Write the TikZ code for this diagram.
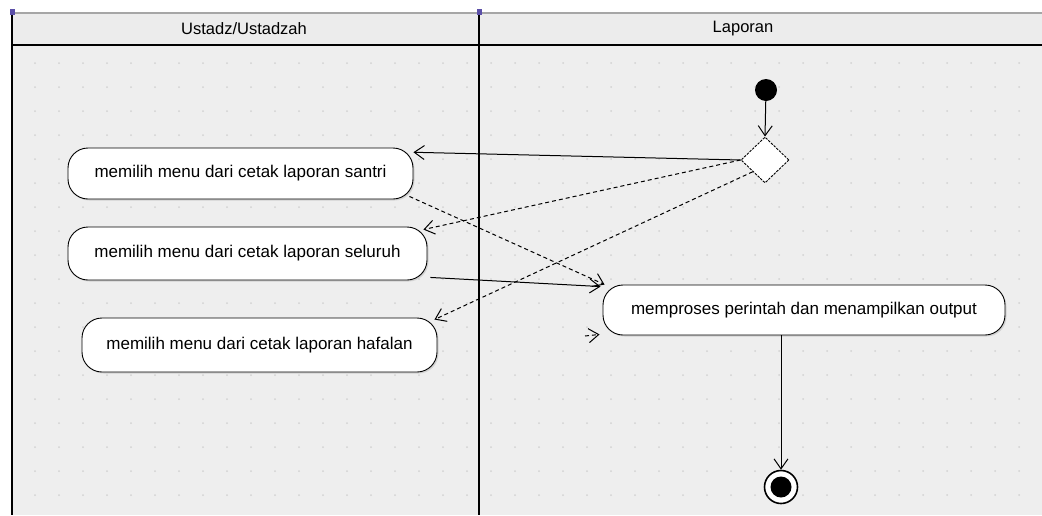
\documentclass[tikz,border=0pt]{standalone}
\usepackage{fontspec}
\setmainfont{Liberation Sans}
\usetikzlibrary{arrows.meta,shapes.geometric,shadows}
\definecolor{bgc}{HTML}{EEEEEE}
\definecolor{hdc}{HTML}{ECECEC}
\definecolor{dotc}{HTML}{D2D2D2}
\definecolor{cornc}{HTML}{5B4FA8}
\tikzset{
  act/.style={draw=black, line width=0.9pt, fill=white, rectangle, rounded corners=20pt,
    font=\fontsize{17}{20}\selectfont, inner sep=0pt, drop shadow={shadow xshift=1.5pt, shadow yshift=-1.5pt, opacity=0.25}},
  flow/.style={line width=1pt, -{Straight Barb[length=10pt,width=14pt]}},
  dflow/.style={flow, dash pattern=on 4pt off 3pt},
  lane/.style={line width=1.3pt, black},
  hdr/.style={font=\fontsize{16.5}{19}\selectfont},
}
\begin{document}
\begin{tikzpicture}[x=1pt,y=-1pt]
\useasboundingbox (0,0) rectangle (1042,515);
% background
\fill[white] (0,0) rectangle (1042,515);
\fill[bgc] (12,12) rectangle (1042,515);
% grid dots
\foreach \gx in {35,59,...,1040} {
  \foreach \gy in {63,87,...,515} {
    \fill[dotc] (\gx,\gy) circle (1pt);
  }
}
% header
\fill[hdc] (12,14) rectangle (1042,45);
\draw[gray!70, line width=1.5pt] (12,13) -- (1042,13);
\draw[lane] (12,45) -- (1042,45);
\draw[lane] (12,12) -- (12,515);
\draw[lane] (479,12) -- (479,515);
\fill[cornc] (10,9) rectangle (15,15);
\fill[cornc] (477,9) rectangle (482,15);
\node[hdr] (h1) at (244,29) {Ustadz/Ustadzah};
\node[hdr] (h2) at (743,29) {Laporan};
% activities
\node[act, minimum width=345pt, minimum height=51pt] (santri) at (240.5,173.5) {memilih menu dari cetak laporan santri};
\node[act, minimum width=359pt, minimum height=53pt] (seluruh) at (247.5,253.5) {memilih menu dari cetak laporan seluruh};
\node[act, minimum width=355pt, minimum height=54pt] (hafalan) at (259.5,345) {memilih menu dari cetak laporan hafalan};
\node[act, minimum width=402pt, minimum height=50pt] (proses) at (804,310) {memproses perintah dan menampilkan output};
% start, decision, end
\node[circle, fill=black, minimum size=22pt, inner sep=0pt] (start) at (766,90) {};
\node[diamond, draw=black, fill=white, line width=0.9pt, dash pattern=on 2.5pt off 1.2pt, minimum width=48pt, minimum height=46pt, inner sep=0pt] (dia) at (765,160) {};
\node[circle, draw=black, line width=1.6pt, fill=white, minimum size=33pt, inner sep=0pt] (endn) at (781,487) {};
\node[circle, fill=black, minimum size=21pt, inner sep=0pt] (endin) at (781,487) {};
% flows
\draw[flow] (start) -- (dia.north);
\draw[flow] (dia.west) -- (santri.7);
\draw[dflow] (dia.west) -- ([xshift=-4pt,yshift=-3pt]seluruh.north east);
\draw[dflow] (dia.south west) -- ([xshift=-3pt,yshift=-2pt]hafalan.north east);
\draw[dflow] ([xshift=-4pt,yshift=3pt]santri.south east) -- ([xshift=2pt]proses.north west);
\draw[flow] ([xshift=3pt,yshift=3pt]seluruh.south east) -- ([xshift=-2pt,yshift=-2pt]proses.north west);
\coordinate (stray) at (585,336);
\draw[dflow] (stray) -- ([xshift=-3pt,yshift=1pt]proses.south west);
\draw[flow] (proses.south -| endn) -- (endn.north);
\end{tikzpicture}
\end{document}
